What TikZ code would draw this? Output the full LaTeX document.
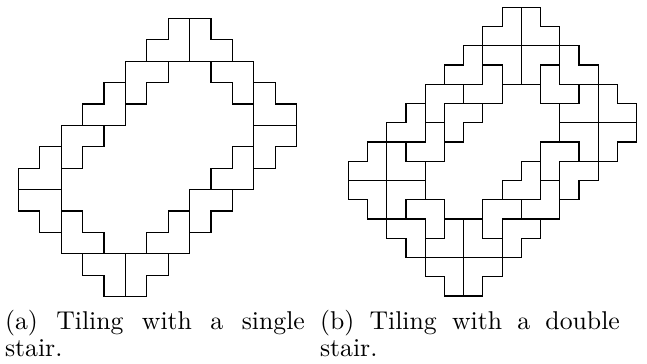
\documentclass[tikz,border=0pt]{standalone}
\newcommand\tilesA{%
\draw (7,0)--(9,0) (8,0)--(8,2) (7,0)--(7,1)--(6,1)--(6,2) (9,0)--(9,1)--(10,1)--(10,2)
(5,2)--(11,2) (5,2)--(5,5) (7,2)--(7,3)--(6,3)--(6,4)--(5,4) (5,3)--(4,3)--(4,4)--(3,4)--(3,5)
(2,5)--(5,5) (2,5)--(2,11) (4,5)--(4,6)--(3,6)--(3,7)--(2,7)
(2,6)--(1,6)--(1,7)--(0,7)--(0,9)--(1,9)--(1,10)--(2,10) (0,8)--(2,8)
(9,2)--(9,3)--(10,3)--(10,4)--(11,4);}
\newcommand\tilesB{%
\draw (0,8)--(1,8) (3,8)--(5,8) (9,8)--(10,8) (11,8)--(14,8)
(0,9)--(4,9) (8,9)--(9,9) (10,9)--(11,9) (12,9)--(13,9)
(0,10)--(1,10) (3,10)--(5,10) (7,10)--(10,10) (11,10)--(12,10)
(1,11)--(4,11) (5,11)--(7,11) (8,11)--(11,11)
(2,12)--(3,12) (4,12)--(5,12) (7,12)--(8,12) (9,12)--(10,12)
(3,13)--(9,13) (4,14)--(5,14) (7,14)--(8,14) (5,15)--(7,15)
(0,8)--(0,10) (1,7)--(1,8) (1,10)--(1,11) (2,7)--(2,12) (3,7)--(3,8) (3,10)--(3,11)
(3,12)--(3,13) (4,8)--(4,10) (4,11)--(4,14) (5,7)--(5,8) (5,10)--(5,12) (5,14)--(5,15)
(6,11)--(6,15) (7,10)--(7,12) (7,14)--(7,15) (8,9)--(8,10) (8,11)--(8,14) (9,8)--(9,9)
(9,10)--(9,11) (9,12)--(9,13) (10,7)--(10,10) (10,11)--(10,12) (11,8)--(11,11)
(12,7)--(12,8) (12,9)--(12,10) (13,7)--(13,9) (14,7)--(14,8);}
\tikzset{tile/.style={line width=0.5pt, line cap=rect, black},
  captext/.style={inner sep=0pt, outer sep=0pt, anchor=base west,
    font=\fontsize{10.95}{13}\selectfont}}
\begin{document}
\begin{tikzpicture}[x=0.4255pt, y=-0.4255pt]
\useasboundingbox (0,0) rectangle (647,363);
\begin{scope}[shift={(18.33,18.33)}, x=9.110pt, y=-9.110pt, tile]
  \tilesA
  \begin{scope}[rotate around={180:(6.5,6.5)}]\tilesA\end{scope}
\end{scope}
\begin{scope}[shift={(348.33,7.33)}, x=8.178pt, y=-8.187pt, tile]
  \tilesB
  \begin{scope}[rotate around={180:(7.5,7.5)}]\tilesB\end{scope}
\end{scope}
\node[captext] (capa1) at (5,329.5) {\makebox[127.6pt][s]{(a) Tiling with a single}};
\node[captext] (capa2) at (5,356.5) {stair.};
\node[captext] (capb1) at (320,329.5) {\makebox[127.6pt][s]{(b) Tiling with a double}};
\node[captext] (capb2) at (320,356.5) {stair.};
\end{tikzpicture}
\end{document}
